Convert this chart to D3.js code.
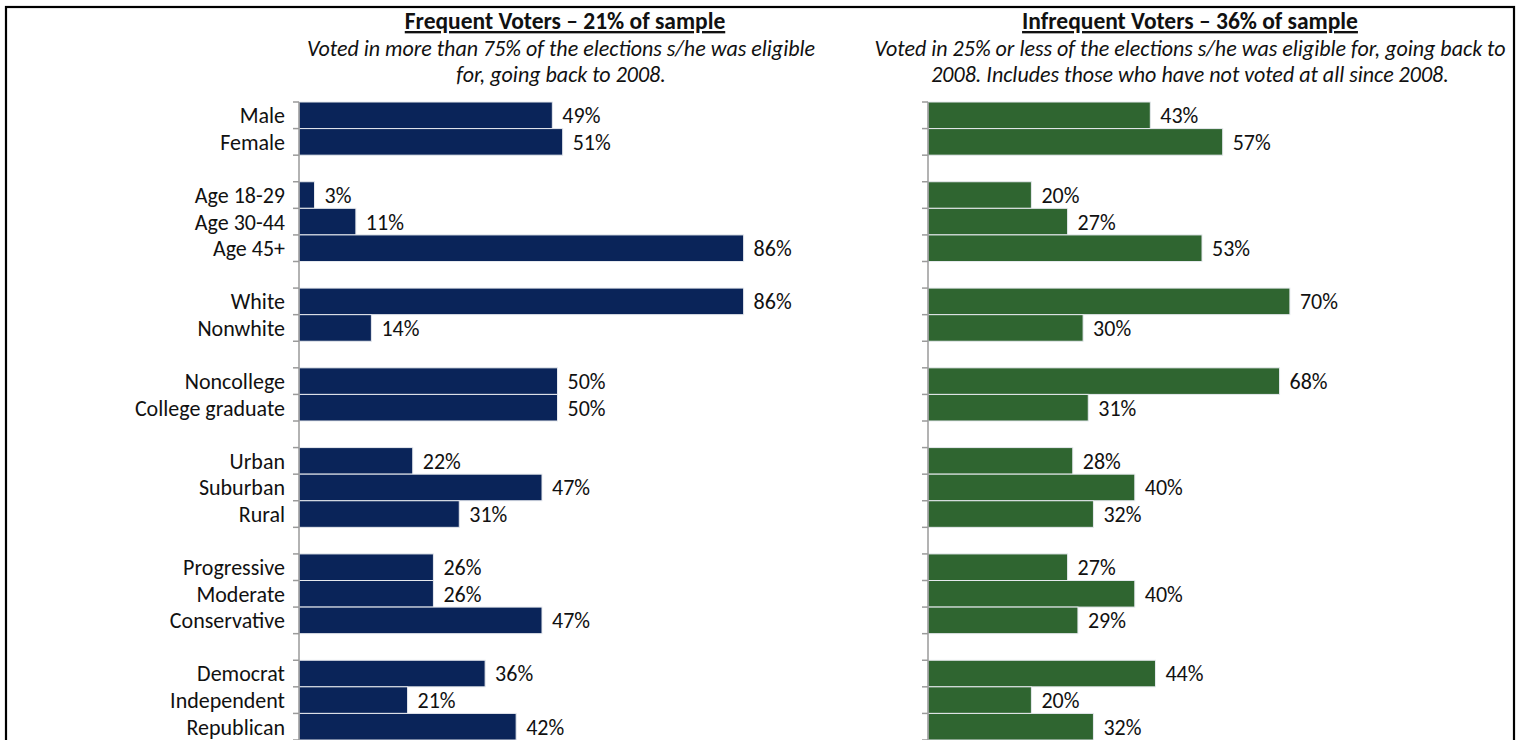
<!DOCTYPE html>
<html>
<head>
<meta charset="utf-8">
<script src="https://cdn.jsdelivr.net/npm/d3@7"></script>
<style>
  html, body { margin: 0; padding: 0; background: #ffffff; }
  svg { display: block; }
  text { font-family: Carlito, Lato, "Open Sans", sans-serif; fill: #111; }
</style>
</head>
<body>
<svg id="chart" width="1520" height="740"></svg>
<script>
// Row order; empty strings are spacer rows between demographic groups
const categories = [
  "Male", "Female", "",
  "Age 18-29", "Age 30-44", "Age 45+", "",
  "White", "Nonwhite", "",
  "Noncollege", "College graduate", "",
  "Urban", "Suburban", "Rural", "",
  "Progressive", "Moderate", "Conservative", "",
  "Democrat", "Independent", "Republican"
];

// Share of each voter segment (%), in the same order as the non-empty categories
const frequentValues = [49, 51, 3, 11, 86, 86, 14, 50, 50, 22, 47, 31, 26, 26, 47, 36, 21, 42];
const infrequentValues = [43, 57, 20, 27, 53, 70, 30, 68, 31, 28, 40, 32, 27, 40, 29, 44, 20, 32];

const panelTitles = ["Frequent Voters \u2013 21% of sample", "Infrequent Voters \u2013 36% of sample"];
const panelSubtitles = [
  ["Voted in more than 75% of the elections s/he was eligible", "for, going back to 2008."],
  ["Voted in 25% or less of the elections s/he was eligible for, going back to", "2008. Includes those who have not voted at all since 2008."]
];

const svg = d3.select("#chart");

// Outer frame
svg.append("rect")
  .attr("x", 6).attr("y", 7).attr("width", 1508).attr("height", 760)
  .attr("fill", "none").attr("stroke", "#000").attr("stroke-width", 2.2);

// Each slot gets a unique key so spacer rows stay distinct
const slotKeys = categories.map((c, i) => i + "|" + c);
const y = d3.scaleBand().domain(slotKeys).range([102, 740]).paddingInner(0).paddingOuter(0);

function rowsFor(values) {
  let k = 0;
  return categories.map((c, i) => c ? { key: slotKeys[i], label: c, value: values[k++] } : null)
    .filter(d => d);
}

const panels = [
  { axisX: 299, color: "#0a2459", values: frequentValues, titleX: 565, subX: 561, showLabels: true },
  { axisX: 928, color: "#2f6530", values: infrequentValues, titleX: 1190, subX: 1190, showLabels: false }
];

const labelSize = 22;

panels.forEach((p, pi) => {
  const x = d3.scaleLinear().domain([0, 100]).range([p.axisX, p.axisX + 517]);
  const rows = rowsFor(p.values);
  const g = svg.append("g");

  // Titles
  g.append("text")
    .attr("x", p.titleX).attr("y", 29)
    .attr("text-anchor", "middle")
    .attr("font-size", 23.5).attr("font-weight", 700)
    .style("text-decoration", "underline")
    .text(panelTitles[pi]);
  panelSubtitles[pi].forEach((line, li) => {
    g.append("text")
      .attr("x", p.subX).attr("y", 56 + li * 26)
      .attr("text-anchor", "middle")
      .attr("font-size", 22).attr("font-style", "italic")
      .text(line);
  });

  // Bars
  g.selectAll("rect.bar").data(rows).join("rect")
    .attr("class", "bar")
    .attr("x", x(0))
    .attr("y", d => y(d.key))
    .attr("width", d => x(d.value) - x(0))
    .attr("height", y.bandwidth())
    .attr("fill", p.color)
    .attr("stroke", "#e6e9ee").attr("stroke-width", 1);

  // Value labels
  g.selectAll("text.val").data(rows).join("text")
    .attr("class", "val")
    .attr("x", d => x(d.value) + 10)
    .attr("y", d => y(d.key) + y.bandwidth() / 2)
    .attr("dy", "0.36em")
    .attr("font-size", labelSize)
    .text(d => d.value + "%");

  // Category axis with ticks at every slot boundary
  const axisG = g.append("g");
  axisG.append("line")
    .attr("x1", p.axisX).attr("x2", p.axisX)
    .attr("y1", y.range()[0]).attr("y2", y.range()[1])
    .attr("stroke", "#9a9a9a").attr("stroke-width", 1.5);
  const bounds = slotKeys.map(k => y(k)).concat([y.range()[1]]);
  axisG.selectAll("line.tick").data(bounds).join("line")
    .attr("class", "tick")
    .attr("x1", p.axisX - 6).attr("x2", p.axisX)
    .attr("y1", d => d).attr("y2", d => d)
    .attr("stroke", "#9a9a9a").attr("stroke-width", 1.5);

  if (p.showLabels) {
    axisG.selectAll("text.cat").data(rows).join("text")
      .attr("class", "cat")
      .attr("x", p.axisX - 14)
      .attr("y", d => y(d.key) + y.bandwidth() / 2)
      .attr("dy", "0.36em")
      .attr("text-anchor", "end")
      .attr("font-size", labelSize)
      .text(d => d.label);
  }
});
</script>
</body>
</html>
